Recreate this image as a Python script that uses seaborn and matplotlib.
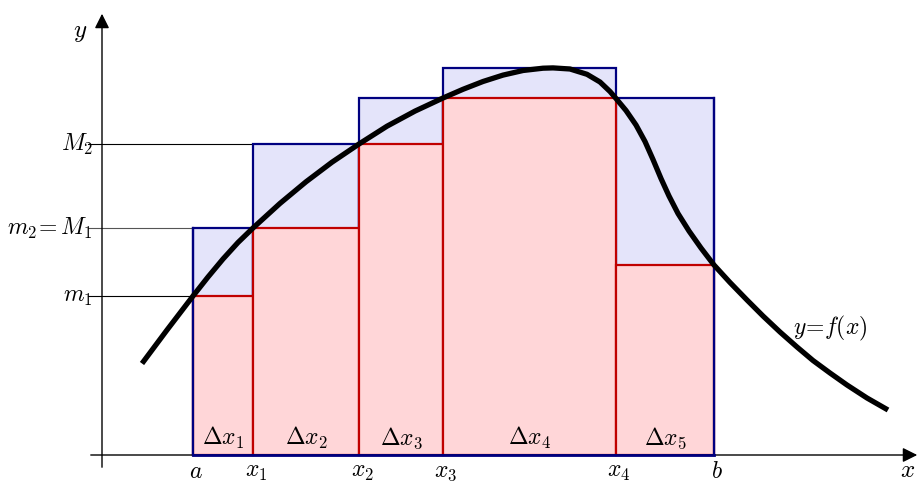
import numpy as np
import pandas as pd
import matplotlib
matplotlib.use('Agg')
import matplotlib.pyplot as plt
import seaborn as sns

# partition points a, x1..x4, b
x_parts = [91, 151, 257, 341, 514, 612]
# lower (m) and upper (M) values on each subinterval
lower_vals = [159, 227, 311, 357, 190]
upper_vals = [227, 311, 357, 387, 357]
part_labels = ['$a$', '$x_1$', '$x_2$', '$x_3$', '$x_4$', '$b$']
dx_labels = [r'$\Delta x_1$', r'$\Delta x_2$', r'$\Delta x_3$', r'$\Delta x_4$', r'$\Delta x_5$']

# curve y = f(x)
curve_x = [40, 65, 78, 91, 106, 121, 136, 151, 178, 204, 230, 257, 285, 313,
           341, 361, 381, 401, 421, 441, 451, 468, 485, 498, 508, 514, 524,
           534, 543, 551, 559, 567, 576, 587, 599, 612, 628, 645, 661, 678,
           695, 711, 728, 745, 765, 786]
curve_y = [91.5, 125, 142, 159, 178, 196, 212.5, 227, 251.6, 273.2, 292.8, 311,
           328.8, 343.9, 357, 365.7, 373.5, 379.9, 384.5, 386.8, 387.1, 386,
           380.7, 373, 363.5, 356.5, 344.5, 330, 313.5, 295.5, 276.5, 259,
           241.5, 224, 207, 190, 172.5, 155, 139, 123, 108, 94.5, 82, 70, 57, 45]

# y tick levels and labels
ytick_vals = [159, 227, 311]
ytick_labels = ['$m_1$', '$m_2\\!=M_1$', '$M_2$']

plt.rcParams['mathtext.fontset'] = 'cm'

fig = plt.figure(figsize=(9.2, 4.83), dpi=100)
ax = fig.add_axes([0, 0, 1, 1])
ax.set_xlim(-102, 818)
ax.set_ylim(-28, 455)

widths = np.diff(x_parts)
navy = '#000080'
red = '#c00000'

# upper sum rectangles
ax.bar(x_parts[:-1], upper_vals, width=widths, align='edge',
       color='#e4e4fa', edgecolor=navy, linewidth=1.6, zorder=2)
# lower sum rectangles
ax.bar(x_parts[:-1], lower_vals, width=widths, align='edge',
       color='#ffd6d8', edgecolor=red, linewidth=1.6, zorder=3)

# outer boundary of the lower rectangles in navy
ax.plot([x_parts[0], x_parts[0]], [0, upper_vals[0]], color=navy, lw=1.6, zorder=4)
ax.plot([x_parts[-1], x_parts[-1]], [0, upper_vals[-1]], color=navy, lw=1.6, zorder=4)
ax.plot([x_parts[0], x_parts[-1]], [0, 0], color=navy, lw=2.0, zorder=4)

# guide lines to y axis
ax.plot([-14, x_parts[1]], [ytick_vals[2], ytick_vals[2]], color='black', lw=0.8, zorder=1)
ax.plot([-14, x_parts[0]], [ytick_vals[1], ytick_vals[1]], color='#555555', lw=0.8, zorder=1)
ax.plot([-14, x_parts[0]], [ytick_vals[0], ytick_vals[0]], color='black', lw=0.8, zorder=1)

# axes with arrows
ax.annotate('', xy=(0, 444), xytext=(0, -15),
            arrowprops=dict(arrowstyle='-|>', color='black', lw=1, mutation_scale=22))
ax.annotate('', xy=(818, 0), xytext=(-14, 0),
            arrowprops=dict(arrowstyle='-|>', color='black', lw=1, mutation_scale=22))

# the curve
df = pd.DataFrame({'x': curve_x, 'y': curve_y})
sns.lineplot(data=df, x='x', y='y', sort=False, color='black', lw=3.8,
             solid_capstyle='butt', solid_joinstyle='round', ax=ax, zorder=5)
ax.axis('off')

# labels
ax.text(-22, 423, '$y$', fontsize=18, ha='center', va='center')
ax.text(806, -15, '$x$', fontsize=18, ha='center', va='center')
for xv, lab in zip(x_parts, part_labels):
    ax.text(xv + 3, -16, lab, fontsize=17, ha='center', va='center')
for yv, lab in zip(ytick_vals, ytick_labels):
    ax.text(-9, yv, lab, fontsize=17, ha='right', va='center')
for i, lab in enumerate(dx_labels):
    xm = (x_parts[i] + x_parts[i + 1]) / 2
    ax.text(xm, 17, lab, fontsize=17, ha='center', va='center', zorder=6)
ax.text(728, 127, '$y\\!=\\!f(x)$', fontsize=17, ha='center', va='center')

fig.savefig('out.png', dpi=100)
